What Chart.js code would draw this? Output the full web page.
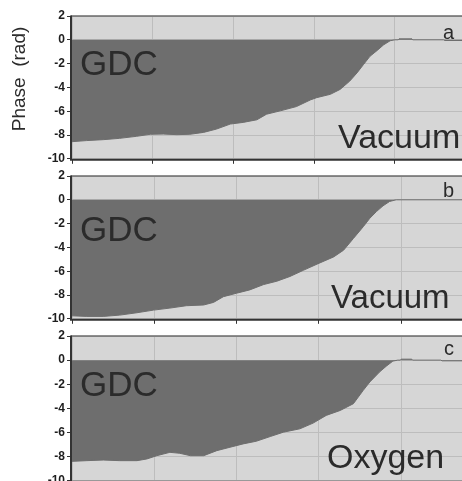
<!DOCTYPE html>
<html>
<head>
<meta charset="utf-8">
<script src="https://cdn.jsdelivr.net/npm/chart.js@4.4.0/dist/chart.umd.min.js"></script>
<style>
  html, body { margin: 0; padding: 0; background: #fff; overflow: hidden; }
  body { width: 462px; height: 481px; position: relative; }
  canvas { position: absolute; left: 0; }
</style>
</head>
<body>
<canvas id="panelA" width="462" height="168" style="top:0px"></canvas>
<canvas id="panelB" width="462" height="162" style="top:166px"></canvas>
<canvas id="panelC" width="462" height="164" style="top:326px"></canvas>
<script>
// y ticks shared by the three panels
const yTicks = [2, 0, -2, -4, -6, -8, -10];

// panel a (vacuum)
const xA = [0, 0.18, 0.39, 0.59, 0.80, 0.97, 1.13, 1.30, 1.46, 1.63, 1.79, 1.96, 2.12, 2.29, 2.41, 2.58, 2.78, 2.95, 3.03, 3.20, 3.32, 3.44, 3.53, 3.61, 3.69, 3.78, 3.86, 3.94, 4.00, 4.04, 4.05, 4.21, 4.22, 4.60, 4.62, 4.83];
const yA = [-8.56, -8.47, -8.39, -8.28, -8.11, -7.94, -7.92, -7.97, -7.94, -7.78, -7.50, -7.08, -6.94, -6.72, -6.25, -5.97, -5.61, -5.06, -4.86, -4.58, -4.17, -3.47, -2.78, -2.08, -1.39, -0.89, -0.42, -0.08, 0, 0, 0.08, 0.08, 0, 0, -0.06, -0.06];

// panel b (vacuum)
const xB = [0, 0.18, 0.38, 0.58, 0.79, 0.99, 1.19, 1.39, 1.60, 1.72, 1.84, 2.00, 2.16, 2.33, 2.49, 2.65, 2.81, 2.99, 3.18, 3.30, 3.42, 3.54, 3.62, 3.70, 3.78, 3.86, 3.94, 4.74];
const yB = [-9.75, -9.80, -9.80, -9.69, -9.49, -9.27, -9.10, -8.90, -8.84, -8.62, -8.14, -7.85, -7.57, -7.12, -6.84, -6.44, -5.93, -5.37, -4.80, -4.24, -3.25, -2.26, -1.55, -0.99, -0.51, -0.14, 0, 0];

// panel c (oxygen)
const xC = [0, 0.18, 0.38, 0.58, 0.79, 0.91, 1.03, 1.19, 1.31, 1.44, 1.60, 1.76, 1.92, 2.08, 2.24, 2.41, 2.57, 2.77, 2.93, 3.09, 3.26, 3.42, 3.54, 3.62, 3.74, 3.82, 3.90, 3.96, 3.99, 4.00, 4.13, 4.14, 4.48, 4.50, 4.74];
const yC = [-8.39, -8.33, -8.28, -8.33, -8.33, -8.19, -7.92, -7.64, -7.72, -7.92, -7.92, -7.50, -7.22, -6.94, -6.72, -6.33, -5.97, -5.69, -5.22, -4.58, -4.17, -3.61, -2.50, -1.81, -0.97, -0.50, -0.08, 0, 0, 0.08, 0.08, 0, 0, -0.06, -0.06];

Chart.defaults.font.family = "'Liberation Sans', Arial, sans-serif";

const fillColor = "#6e6e6e";
const textColor = "#2b2b2b";

// plot background, borders and the text labels inside each panel
const panelDecor = {
  id: "panelDecor",
  beforeDraw(chart) {
    const a = chart.chartArea;
    const ctx = chart.ctx;
    ctx.save();
    ctx.fillStyle = "#d6d6d6";
    ctx.fillRect(a.left, a.top, a.right - a.left, a.bottom - a.top);
    ctx.restore();
  },
  afterDatasetsDraw(chart, args, opts) {
    const a = chart.chartArea;
    const ctx = chart.ctx;
    ctx.save();
    // borders
    ctx.strokeStyle = "#6a6a6a";
    ctx.lineWidth = 1.5;
    ctx.beginPath();
    ctx.moveTo(a.left - 1, a.top);
    ctx.lineTo(a.right, a.top);
    ctx.stroke();
    ctx.strokeStyle = "#333";
    ctx.lineWidth = 2;
    ctx.beginPath();
    ctx.moveTo(a.left - 1, a.top - 0.5);
    ctx.lineTo(a.left - 1, a.bottom + 1);
    ctx.lineTo(a.right, a.bottom + 1);
    ctx.stroke();

    ctx.fillStyle = textColor;
    ctx.textBaseline = "alphabetic";
    ctx.textAlign = "left";
    ctx.font = "35px 'Liberation Sans', Arial, sans-serif";
    ctx.fillText("GDC", 80, a.top + opts.gdcY);
    ctx.font = opts.gasSize + "px 'Liberation Sans', Arial, sans-serif";
    ctx.fillText(opts.gas, opts.gasX, a.top + 132);
    ctx.textAlign = "right";
    ctx.font = "20px 'Liberation Sans', Arial, sans-serif";
    ctx.fillText(opts.letter, 454, a.top + opts.letterY);

    if (opts.yTitle) {
      ctx.translate(19.5, 79);
      ctx.rotate(-Math.PI / 2);
      ctx.textAlign = "center";
      ctx.textBaseline = "middle";
      ctx.font = "19px 'Liberation Sans', Arial, sans-serif";
      ctx.fillText(opts.yTitle, 0, 0);
    }
    ctx.restore();
  }
};

function drawPanel(id, xs, ys, xMax, padTop, decor) {
  const points = xs.map((x, i) => ({ x: x, y: ys[i] }));
  new Chart(document.getElementById(id), {
    type: "line",
    data: {
      datasets: [{
        data: points,
        borderColor: fillColor,
        borderWidth: 1,
        backgroundColor: fillColor,
        fill: "origin",
        pointRadius: 0,
        tension: 0
      }]
    },
    options: {
      responsive: false,
      animation: false,
      events: [],
      layout: { padding: { top: padTop, left: 0, right: 0, bottom: 0 } },
      plugins: {
        legend: { display: false },
        tooltip: { enabled: false },
        panelDecor: decor
      },
      scales: {
        x: {
          type: "linear",
          min: 0,
          max: xMax,
          ticks: { display: false, stepSize: 1 },
          grid: { color: "#bdbdbd", lineWidth: 1, tickColor: "#333", tickLength: 5 },
          border: { display: false },
          afterFit: (s) => { s.height = 8; }
        },
        y: {
          min: -10,
          max: 2,
          afterBuildTicks: (s) => { s.ticks = yTicks.map(v => ({ value: v })); },
          ticks: {
            color: "#1e1e1e",
            padding: 2,
            font: { size: 12, weight: "bold" }
          },
          grid: { color: "#bdbdbd", lineWidth: 1, tickColor: "#333", tickLength: 5 },
          border: { display: false },
          afterFit: (s) => { s.width = 72; }
        }
      }
    },
    plugins: [panelDecor]
  });
}

drawPanel("panelA", xA, yA, 4.83, 16, { gas: "Vacuum", gasX: 338, gasSize: 34, letter: "a", letterY: 22.5, gdcY: 59, yTitle: "Phase  (rad)" });
drawPanel("panelB", xB, yB, 4.74, 10, { gas: "Vacuum", gasX: 331, gasSize: 33, letter: "b", letterY: 20.7, gdcY: 64.5, yTitle: null });
drawPanel("panelC", xC, yC, 4.74, 10, { gas: "Oxygen", gasX: 327, gasSize: 34, letter: "c", letterY: 19, gdcY: 60, yTitle: null });
</script>
</body>
</html>
